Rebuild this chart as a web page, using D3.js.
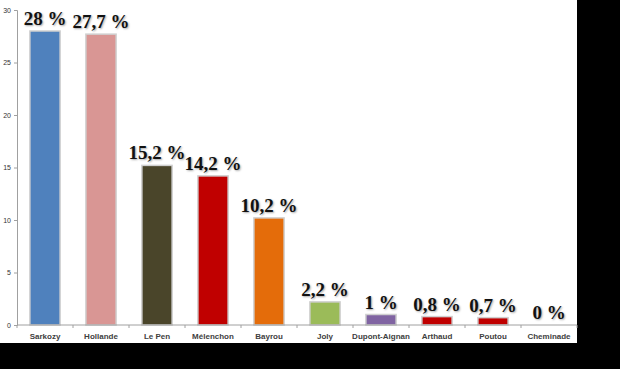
<!DOCTYPE html>
<html>
<head>
<meta charset="utf-8">
<script src="https://cdn.jsdelivr.net/npm/d3@7"></script>
<style>
  body { margin: 0; background: #000; }
  svg { display: block; }
  .valeur { text-shadow: 1px 1px 2px rgba(0,0,0,0.35); }
</style>
</head>
<body>
<div id="canvas"></div>
<script>
// candidats et scores
var candidats = ["Sarkozy", "Hollande", "Le Pen", "Mélenchon", "Bayrou", "Joly", "Dupont-Aignan", "Arthaud", "Poutou", "Cheminade"];
var scores = [28, 27.7, 15.2, 14.2, 10.2, 2.2, 1, 0.8, 0.7, 0];
var etiquettes = ["28 %", "27,7 %", "15,2 %", "14,2 %", "10,2 %", "2,2 %", "1 %", "0,8 %", "0,7 %", "0 %"];
var couleurs = ["#4f81bd", "#d99694", "#4a452a", "#c00000", "#e46c0a", "#9bbb59", "#8064a2", "#c00000", "#c00000", "#c00000"];
var ticksY = [0, 5, 10, 15, 20, 25, 30];

var datos = candidats.map(function(c, i) {
    return { nom: c, valeur: scores[i], label: etiquettes[i], couleur: couleurs[i] };
});

var width = 620;
var height = 369;
var margin = {top: 10, right: 43, bottom: 44, left: 17};
var w = 577 - margin.left;
var h = 325 - margin.top;

var svg = d3.select("#canvas").append("svg")
    .attr("width", width)
    .attr("height", height);

svg.append("rect")
    .attr("width", 577)
    .attr("height", 343)
    .attr("fill", "#fff");

var g = svg.append("g")
    .attr("transform", "translate(" + margin.left + "," + margin.top + ")");

var x = d3.scaleBand()
    .range([0, w])
    .domain(candidats)
    .paddingInner(0.46)
    .paddingOuter(0.23);

var y = d3.scaleLinear()
    .range([h, 0])
    .domain([0, 30]);

// axe Y
var axeY = g.append("g")
    .call(d3.axisLeft(y).tickValues(ticksY).tickSize(3).tickPadding(3));
axeY.select(".domain").attr("stroke", "#a0a0a0");
axeY.selectAll(".tick line").attr("stroke", "#a0a0a0");
axeY.selectAll("text")
    .attr("font-family", "Liberation Sans, sans-serif")
    .attr("font-size", "7px")
    .attr("fill", "#333");

// barres
g.selectAll(".barra")
    .data(datos)
    .enter().append("rect")
    .attr("class", "barra")
    .attr("x", function(d) { return x(d.nom); })
    .attr("y", function(d) { return y(d.valeur); })
    .attr("width", x.bandwidth())
    .attr("height", function(d) { return y(0) - y(d.valeur); })
    .attr("fill", function(d) { return d.couleur; })
    .attr("stroke", "#d0d0d0")
    .attr("stroke-width", 1.5);

// axe X
var axeX = g.append("g")
    .attr("transform", "translate(0," + h + ")");
axeX.append("line")
    .attr("x1", 0).attr("x2", w)
    .attr("stroke", "#a0a0a0");
axeX.selectAll(".sep")
    .data(d3.range(candidats.length + 1))
    .enter().append("line")
    .attr("class", "sep")
    .attr("x1", function(i) { return i * w / candidats.length; })
    .attr("x2", function(i) { return i * w / candidats.length; })
    .attr("y1", 0).attr("y2", 3)
    .attr("stroke", "#a0a0a0");
axeX.selectAll(".nom")
    .data(datos)
    .enter().append("text")
    .attr("class", "nom")
    .attr("x", function(d) { return x(d.nom) + x.bandwidth() / 2; })
    .attr("y", 14)
    .attr("text-anchor", "middle")
    .attr("font-family", "Liberation Sans, sans-serif")
    .attr("font-weight", "bold")
    .attr("font-size", "8px")
    .attr("fill", "#404040")
    .text(function(d) { return d.nom; });

// valeurs
g.selectAll(".valeur")
    .data(datos)
    .enter().append("text")
    .attr("class", "valeur")
    .attr("x", function(d) { return x(d.nom) + x.bandwidth() / 2; })
    .attr("y", function(d) { return y(d.valeur) - 6; })
    .attr("text-anchor", "middle")
    .attr("font-family", "Liberation Serif, serif")
    .attr("font-weight", "bold")
    .attr("font-size", "19px")
    .attr("fill", "#111")
    .text(function(d) { return d.label; });
</script>
</body>
</html>
